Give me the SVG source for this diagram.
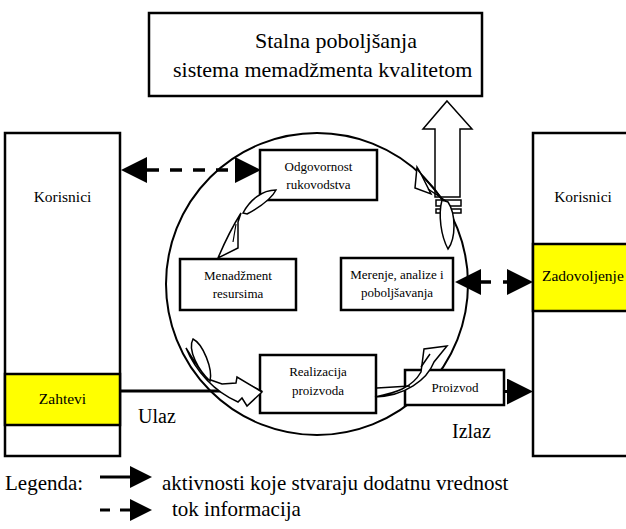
<svg xmlns="http://www.w3.org/2000/svg" width="626" height="529" viewBox="0 0 626 529">
<style>
.box{fill:#fff;stroke:#000;stroke-width:2.5}
.yel{fill:#ffff00;stroke:#000;stroke-width:2.5}
text{font-family:'Liberation Serif','Times New Roman',Tinos,'DejaVu Serif',serif;fill:#000}
.curl{fill:#fff;stroke:#000;stroke-width:1.5;stroke-linejoin:miter}
.dash{stroke:#000;stroke-width:3.5;fill:none}
.solid{stroke:#000;stroke-width:3;fill:none}
</style>
<defs>
<marker id="head" viewBox="0 0 10 10" refX="0" refY="5" markerUnits="userSpaceOnUse" markerWidth="26" markerHeight="26" orient="auto-start-reverse">
<path d="M0,0 L10,5 L0,10 Z" fill="#000"/>
</marker>
<marker id="headS" viewBox="0 0 10 10" refX="0" refY="5" markerUnits="userSpaceOnUse" markerWidth="22" markerHeight="22" orient="auto">
<path d="M0,0 L10,5 L0,10 Z" fill="#000"/>
</marker>
<marker id="headXS" viewBox="0 0 10 10" refX="0" refY="5" markerUnits="userSpaceOnUse" markerWidth="20" markerHeight="20" orient="auto">
<path d="M0,0 L10,5 L0,10 Z" fill="#000"/>
</marker>
</defs>

<g id="top">
<rect class="box" x="149" y="13" width="333" height="83"/>
<text font-size="22" x="255" y="48">Stalna poboljšanja</text>
<text font-size="22" x="173" y="77">sistema memadžmenta kvalitetom</text>
</g>

<g id="left">
<rect class="box" x="5" y="133" width="115" height="323"/>
<rect class="yel" x="5" y="374" width="115" height="51"/>
<text font-size="15.5" x="62.5" y="202" text-anchor="middle">Korisnici</text>
<text font-size="15.5" x="62.5" y="404" text-anchor="middle">Zahtevi</text>
</g>

<g id="right">
<rect class="box" x="533" y="133" width="100" height="323"/>
<rect class="yel" x="533" y="244" width="100" height="67"/>
<text font-size="15.5" x="583" y="202" text-anchor="middle">Korisnici</text>
<text font-size="15.5" x="542" y="281">Zadovoljenje</text>
</g>

<g id="connectors">
<path class="curl" d="M447,101 L472,129 L460,129 L460,197 L435,197 L435,129 L423,129 Z"/>
<rect class="curl" x="436" y="200" width="25" height="6"/>
<rect class="curl" x="436" y="209" width="25" height="4"/>
</g>

<g id="cycle">
<circle cx="317" cy="284" r="151" fill="none" stroke="#000" stroke-width="2"/>
</g>

<g id="odgovornost">
<rect class="box" x="260" y="150" width="117" height="50"/>
<text font-size="13" x="318.5" y="171" text-anchor="middle">Odgovornost</text>
<text font-size="13" x="318.5" y="189" text-anchor="middle">rukovodstva</text>
</g>
<g id="menadzment">
<rect class="box" x="180" y="259" width="116" height="51"/>
<text font-size="13" x="238" y="280" text-anchor="middle">Menadžment</text>
<text font-size="13" x="238" y="298" text-anchor="middle">resursima</text>
</g>
<g id="merenje">
<rect class="box" x="341" y="258" width="112" height="52"/>
<text font-size="13" x="397" y="279" text-anchor="middle">Merenje, analize i</text>
<text font-size="13" x="397" y="297" text-anchor="middle">poboljšavanja</text>
</g>
<g id="realizacija">
<rect class="box" x="260" y="355" width="116" height="58"/>
<text font-size="13" x="318" y="376" text-anchor="middle">Realizacija</text>
<text font-size="13" x="318" y="395" text-anchor="middle">proizvoda</text>
</g>
<g id="proizvod">
<rect class="box" x="405" y="370" width="99" height="35"/>
<text font-size="13" x="455" y="392" text-anchor="middle">Proizvod</text>
</g>

<g id="arrows">
<line class="dash" x1="147" y1="170" x2="235" y2="170" stroke-dasharray="12 11" marker-start="url(#head)" marker-end="url(#head)"/>
<line class="dash" x1="481" y1="282" x2="507" y2="282" stroke-dasharray="10 12" marker-start="url(#head)" marker-end="url(#head)"/>
<line class="solid" x1="120" y1="391" x2="243" y2="391" marker-end="url(#headXS)"/>
<line class="solid" x1="504" y1="391.5" x2="507" y2="391.5" marker-end="url(#head)"/>
<path class="curl" d="M241,213 Q229,232 218,258 L238,248 L238,222 Z"/>
<path class="curl" d="M243,213 C250,200 262,190 276,190 C272,198 260,207 247,214 Z"/>
<path fill="none" stroke="#000" stroke-width="1.2" d="M236,224 L233,242"/>
<path class="curl" d="M417,167 L415,188 L431,194 L420,172 Z"/>
<path class="curl" d="M442,200 C438,215 441,236 448,249 C456,238 456,214 448,202 Z"/>
<path fill="none" stroke="#000" stroke-width="1.5" d="M417,169 L444,201 M428,189 L446,201"/>
<path class="curl" d="M186,348 C196,372 215,392 238,402 L242,398 L247,406 L262,392 L237,377 L236,383 L222,384 L208,379 C200,370 192,358 186,348 Z"/>
<path class="curl" d="M193,339 C187,350 199,371 210,381 C213,369 203,344 193,339 Z"/>
<path class="curl" d="M375,397 C395,393 412,388 421,372 L424,349 L447,346 L434,362 C427,380 405,396 375,397 Z"/>
<path fill="none" stroke="#000" stroke-width="1.5" d="M377,388 L410,386 M421,367 L430,354"/>
</g>

<g id="labels">
<text font-size="20" fill="#222" x="138" y="423">Ulaz</text>
<text font-size="20" fill="#222" x="452" y="438">Izlaz</text>
</g>

<g id="legend">
<text font-size="21" x="5" y="490">Legenda:</text>
<line class="solid" x1="100" y1="477" x2="130" y2="477" marker-end="url(#headS)"/>
<text font-size="21" x="162" y="490">aktivnosti koje stvaraju dodatnu vrednost</text>
<line class="solid" x1="100" y1="510" x2="130" y2="510" stroke-dasharray="10 10" marker-end="url(#headS)"/>
<text font-size="21" x="172" y="516">tok informacija</text>
</g>
</svg>
